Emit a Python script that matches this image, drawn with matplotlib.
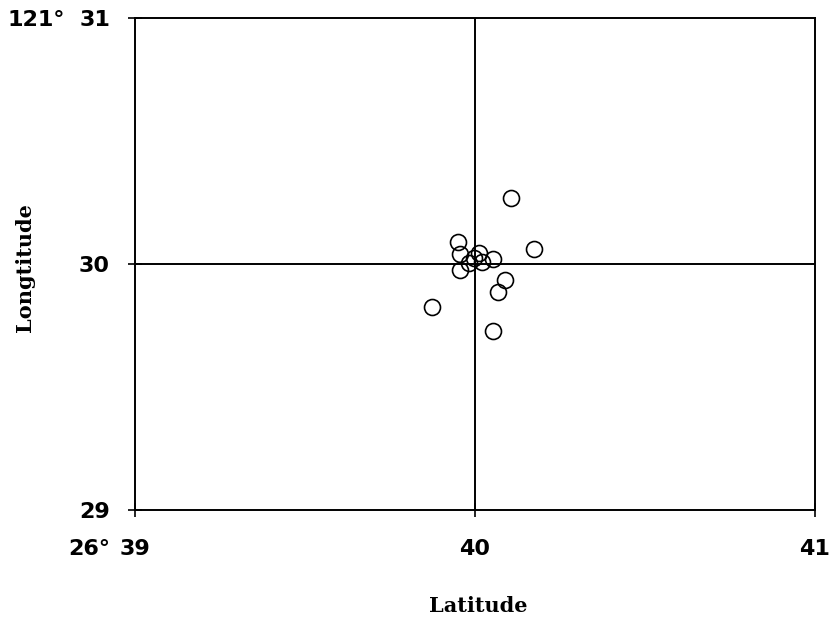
import matplotlib
matplotlib.use("Agg")
import matplotlib.pyplot as plt

# Station positions (latitude, longitude offsets in degrees/minutes)
latitude = [40.106, 40.174, 39.950, 39.956, 40.012, 40.053, 39.956,
            39.982, 40.021, 39.997, 40.088, 40.068, 39.874, 40.053]
longitude = [30.268, 30.061, 30.089, 30.041, 30.043, 30.020, 29.976,
             30.004, 30.010, 30.024, 29.935, 29.886, 29.825, 29.728]

x_ticks = [39, 40, 41]
y_ticks = [29, 30, 31]
center_x = 40
center_y = 30

fig = plt.figure(figsize=(8.37, 6.23), dpi=100)
ax = fig.add_axes([0.1613, 0.1814, 0.8124, 0.7897])

ax.axvline(center_x, color="black", lw=1.4, zorder=1)
ax.axhline(center_y, color="black", lw=1.4, zorder=1)
ax.plot(latitude, longitude, linestyle="none", marker="o", markersize=11.5,
        markerfacecolor="none", markeredgecolor="black", markeredgewidth=1.2,
        zorder=2)

ax.set_xlim(39, 41)
ax.set_ylim(29, 31)
ax.set_xticks(x_ticks)
ax.set_yticks(y_ticks)

tick_font = dict(family="DejaVu Sans", weight="bold", size=16)
ax.set_xticklabels([str(t) for t in x_ticks], fontdict=tick_font)
ax.set_yticklabels([str(t) for t in y_ticks], fontdict=tick_font)
ax.tick_params(axis="both", direction="inout", length=10, width=1.2,
               color="black")
ax.tick_params(axis="x", pad=16)
ax.tick_params(axis="y", pad=13)

for s in ax.spines.values():
    s.set_linewidth(1.4)
    s.set_color("black")

# Degree prefixes for the axis origins
fig.text(65 / 837, 1 - 20 / 623, "121°", ha="right", va="center", **tick_font)
fig.text(110 / 837, 1 - 549 / 623, "26°", ha="right", va="center", **tick_font)

label_font = dict(family="DejaVu Serif", weight="bold", size=15)
fig.text(478 / 837, 1 - 606 / 623, "Latitude", ha="center", va="center",
         **label_font)
fig.text(25 / 837, 1 - 268 / 623, "Longtitude", ha="center", va="center",
         rotation=90, **label_font)

fig.savefig("out.png", dpi=100)
